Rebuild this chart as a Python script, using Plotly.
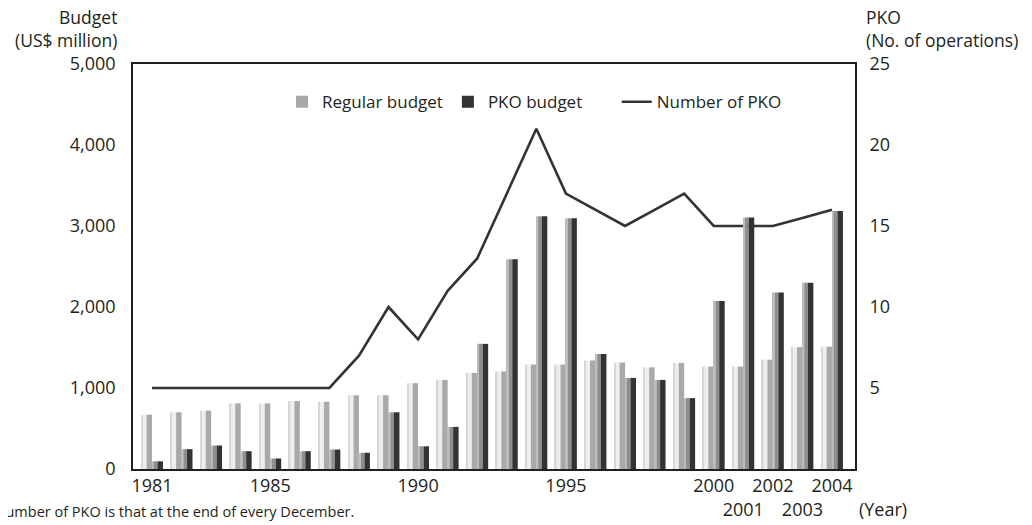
import plotly.graph_objects as go

years = list(range(1981, 2005))
regular_budget = [670, 700, 720, 810, 810, 840, 830, 910, 910, 1060, 1100, 1185,
                  1205, 1290, 1290, 1340, 1315, 1255, 1310, 1265, 1265, 1350, 1505, 1510]
pko_budget = [95, 245, 290, 220, 130, 220, 240, 200, 700, 280, 520, 1545,
              2590, 3120, 3095, 1420, 1125, 1100, 875, 2075, 3105, 2180, 2300, 3185]
pko_count = [5, 5, 5, 5, 5, 5, 5, 7, 10, 8, 11, 13, 17, 21, 17, 16, 15, 16, 17, 15,
             15, 15, 15.5, 16]

tick_years = [1981, 1985, 1990, 1995, 2000, 2001, 2002, 2003, 2004]
tick_text = ["1981", "1985", "1990", "1995", "2000", "<br>2001", "2002", "<br>2003", "2004"]
left_ticks = [0, 1000, 2000, 3000, 4000, 5000]
right_ticks = [5, 10, 15, 20, 25]

FONT = "Open Sans"
INK = "#231f20"
FS = 18

fig = go.Figure()

# Number of PKO line (primary y, drawn beneath bars)
fig.add_trace(go.Scatter(
    x=years, y=pko_count, mode="lines", name="Number of PKO",
    line=dict(color="#333333", width=2.6), yaxis="y", legend="legend2",
))

# 3D-looking bars built from strips: (offset, width, colour, show in legend)
reg_strips = [(-0.37, 0.06, "#d6d6d6", False), (-0.31, 0.125, "#eeeeee", False),
              (-0.185, 0.185, "#a9a9a9", True)]
pko_strips = [(0.0, 0.06, "#bdbdbd", False), (0.06, 0.125, "#8e8e8e", False),
              (0.185, 0.185, "#333333", True)]

for off, w, col, leg in reg_strips:
    fig.add_trace(go.Bar(
        x=years, y=regular_budget, offset=off, width=w, yaxis="y2",
        marker=dict(color=col, line=dict(width=0)), name="Regular budget",
        legendgroup="reg", showlegend=leg, legendrank=1,
    ))
for off, w, col, leg in pko_strips:
    fig.add_trace(go.Bar(
        x=years, y=pko_budget, offset=off, width=w, yaxis="y2",
        marker=dict(color=col, line=dict(width=0)), name="PKO budget",
        legendgroup="pko", showlegend=leg, legendrank=2,
    ))

fig.update_layout(
    width=1032, height=525,
    margin=dict(l=125, r=185, t=56, b=64, autoexpand=False),
    paper_bgcolor="white", plot_bgcolor="white",
    barmode="overlay",
    font=dict(family=FONT, size=FS, color=INK),
    xaxis=dict(
        range=[1980.357, 2004.778], tickvals=tick_years, ticktext=tick_text,
        tickangle=0, automargin=False,
        showgrid=False, zeroline=False, showline=True, linecolor=INK, linewidth=1.6,
        mirror=True, ticks="", tickfont=dict(size=FS),
    ),
    yaxis=dict(
        range=[0, 25], side="right", tickvals=right_ticks, showgrid=False,
        zeroline=False, showline=True, linecolor=INK, linewidth=1.6, ticks="",
        ticklabelstandoff=9, tickfont=dict(size=FS), automargin=False,
    ),
    yaxis2=dict(
        range=[0, 5000], side="left", overlaying="y", tickvals=left_ticks,
        tickformat=",d", showgrid=False, zeroline=False, showline=True,
        linecolor=INK, linewidth=1.6, ticks="", ticklabelstandoff=12,
        tickfont=dict(size=FS), automargin=False,
    ),
    legend=dict(
        orientation="h", x=0.2064, y=0.95, xanchor="left", yanchor="top",
        bgcolor="rgba(0,0,0,0)", font=dict(size=17), traceorder="normal",
    ),
    legend2=dict(
        orientation="h", x=0.670, y=0.95, xanchor="left", yanchor="top",
        bgcolor="rgba(0,0,0,0)", font=dict(size=17),
    ),
    showlegend=True,
)

fig.add_annotation(text="Budget<br>(US$ million)", xref="paper", yref="paper",
                   x=-0.0195, y=1.088, xanchor="right", yanchor="middle", align="right",
                   showarrow=False, font=dict(size=17.5))
fig.add_annotation(text="PKO<br>(No. of operations)", xref="paper", yref="paper",
                   x=1.0125, y=1.088, xanchor="left", yanchor="middle", align="left",
                   showarrow=False, font=dict(size=17.5))
fig.add_annotation(text="(Year)", xref="paper", yref="paper",
                   x=1.003, y=-0.0999, xanchor="left", yanchor="middle",
                   showarrow=False, font=dict(size=FS))
fig.add_annotation(text="Note: Number of PKO is that at the end of every December.",
                   xref="paper", yref="paper", x=0.3089, y=-0.1048,
                   xanchor="right", yanchor="middle", showarrow=False,
                   font=dict(size=14.5))

fig.write_html("out.html")
